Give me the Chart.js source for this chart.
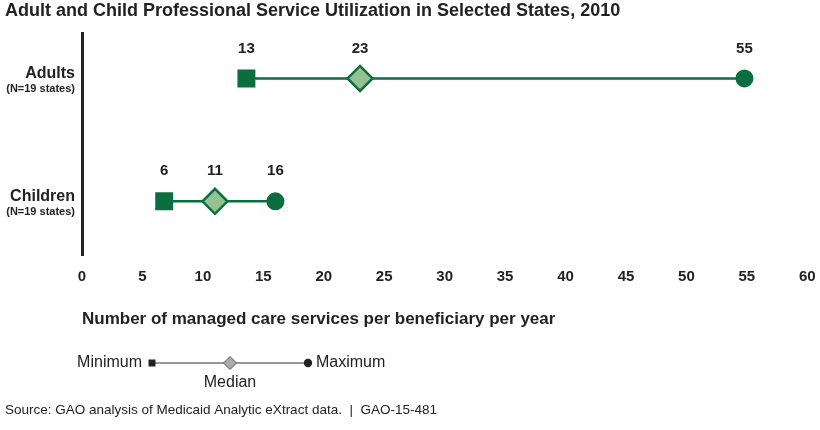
<!DOCTYPE html>
<html>
<head>
<meta charset="utf-8">
<script src="https://cdn.jsdelivr.net/npm/chart.js@4/dist/chart.umd.min.js"></script>
<style>
  html, body { margin: 0; padding: 0; background: #fff; }
  #wrap { width: 820px; height: 430px; position: relative; }
</style>
</head>
<body>
<div id="wrap"><canvas id="rangeChart"></canvas></div>
<script>
  // data
  const groups = ["Adults", "Children"];
  const groupNotes = ["(N=19 states)", "(N=19 states)"];
  const groupRows = [1, 0];
  const minValues = [13.6, 6.8];
  const medianValues = [23, 11];
  const maxValues = [54.8, 16];
  // numbers printed above the markers
  const minLabels = ["13", "6"];
  const medianLabels = ["23", "11"];
  const maxLabels = ["55", "16"];
  const xTicks = [0, 5, 10, 15, 20, 25, 30, 35, 40, 45, 50, 55, 60];

  const green = "#0b6e3f";
  const lightGreen = "#93c18f";
  const narrow = "'Liberation Sans Narrow', 'Liberation Sans', Arial, sans-serif";
  const sans = "'Liberation Sans', Arial, sans-serif";

  const datasets = groups.map((g, i) => ({
    label: g,
    data: [
      { x: minValues[i], y: groupRows[i] },
      { x: medianValues[i], y: groupRows[i] },
      { x: maxValues[i], y: groupRows[i] },
    ],
    valueLabels: [minLabels[i], medianLabels[i], maxLabels[i]],
    borderColor: green,
    borderWidth: 2.5,
    pointStyle: ["rect", "rectRot", "circle"],
    pointRadius: [12.7, 12.5, 9],
    pointHoverRadius: [12.7, 12.5, 9],
    pointBackgroundColor: [green, lightGreen, green],
    pointBorderColor: green,
    pointBorderWidth: [0, 2.5, 0],
  }));

  // row labels, value labels and the little key
  const decorations = {
    id: "decorations",
    afterDatasetsDraw(chart) {
      const { ctx } = chart;
      const yScale = chart.scales.y;
      ctx.save();
      ctx.fillStyle = "#222";
      ctx.textBaseline = "middle";

      // group names left of the axis
      ctx.textAlign = "right";
      groups.forEach((g, i) => {
        const py = yScale.getPixelForValue(groupRows[i]);
        ctx.font = "bold 16px " + sans;
        ctx.fillText(g, 75, py - 5);
        ctx.font = "bold 11px " + sans;
        ctx.fillText(groupNotes[i], 75, py + 11);
      });

      // numbers above each marker
      ctx.textAlign = "center";
      ctx.font = "bold 15px " + sans;
      chart.data.datasets.forEach((ds, di) => {
        chart.getDatasetMeta(di).data.forEach((pt, pi) => {
          ctx.fillText(ds.valueLabels[pi], pt.x, pt.y - 30);
        });
      });

      // key
      const ky = 363;
      ctx.strokeStyle = "#333";
      ctx.lineWidth = 1.2;
      ctx.beginPath();
      ctx.moveTo(152, ky);
      ctx.lineTo(308, ky);
      ctx.stroke();
      ctx.fillStyle = "#222";
      ctx.fillRect(148.5, ky - 3.5, 7, 7);
      ctx.beginPath();
      ctx.arc(308, ky, 4.2, 0, Math.PI * 2);
      ctx.fill();
      ctx.beginPath();
      ctx.moveTo(230, ky - 6.5);
      ctx.lineTo(236.5, ky);
      ctx.lineTo(230, ky + 6.5);
      ctx.lineTo(223.5, ky);
      ctx.closePath();
      ctx.fillStyle = "#aaa";
      ctx.fill();
      ctx.strokeStyle = "#555";
      ctx.lineWidth = 1;
      ctx.stroke();

      ctx.fillStyle = "#222";
      ctx.font = "16px " + sans;
      ctx.textAlign = "right";
      ctx.fillText("Minimum", 142, ky);
      ctx.textAlign = "left";
      ctx.fillText("Maximum", 316, ky);
      ctx.textAlign = "center";
      ctx.fillText("Median", 230, ky + 20);
      ctx.restore();
    },
  };

  const ctx = document.getElementById("rangeChart").getContext("2d");
  const rangeChart = new Chart(ctx, {
    type: "line",
    data: { datasets: datasets },
    options: {
      responsive: true,
      maintainAspectRatio: false,
      animation: false,
      layout: {
        padding: { left: 5, right: 12, top: 0, bottom: 0 },
      },
      plugins: {
        legend: { display: false },
        tooltip: { enabled: false },
        title: {
          display: true,
          text: "Adult and Child Professional Service Utilization in Selected States, 2010",
          align: "start",
          color: "#222",
          font: { family: sans, size: 18, weight: "bold" },
          padding: { top: 0, bottom: 11.4 },
        },
        subtitle: {
          display: true,
          position: "bottom",
          text: "Source: GAO analysis of Medicaid Analytic eXtract data.  |  GAO-15-481",
          align: "start",
          color: "#222",
          font: { family: sans, size: 13.5 },
          padding: { top: 72, bottom: 12 },
        },
      },
      scales: {
        x: {
          type: "linear",
          min: 0,
          max: 60,
          afterBuildTicks: (scale) => {
            scale.ticks = xTicks.map((v) => ({ value: v }));
          },
          afterFit: (scale) => {
            // only leave room for half of the last label
            scale.paddingRight = 8;
          },
          grid: { display: false, drawTicks: false },
          border: { display: false },
          ticks: {
            color: "#222",
            padding: 12,
            maxRotation: 0,
            font: { family: narrow, size: 15, weight: "bold" },
          },
          title: {
            display: true,
            align: "start",
            text: "Number of managed care services per beneficiary per year",
            color: "#222",
            font: { family: sans, size: 17, weight: "bold" },
            padding: { top: 12, bottom: 0 },
          },
        },
        y: {
          type: "linear",
          min: -0.44,
          max: 1.37,
          grid: { display: false, drawTicks: false },
          border: { display: true, color: "#222", width: 3 },
          ticks: { display: false },
          afterFit: (scale) => {
            scale.width = 77;
          },
        },
      },
    },
    plugins: [decorations],
  });
</script>
</body>
</html>
